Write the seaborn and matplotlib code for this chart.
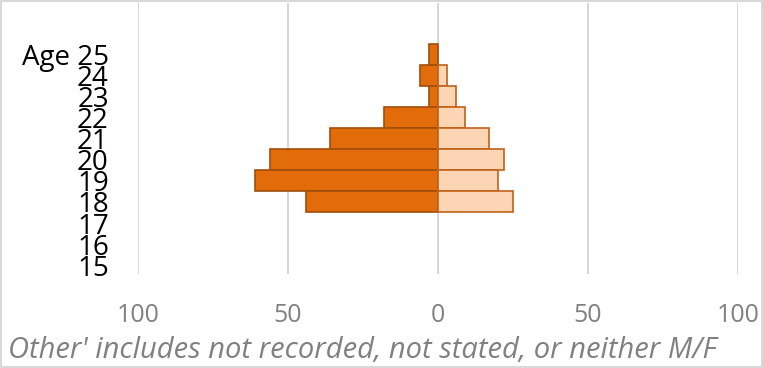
import matplotlib
matplotlib.use("Agg")
import matplotlib.pyplot as plt
import seaborn as sns
import pandas as pd

ages = [25, 24, 23, 22, 21, 20, 19, 18, 17, 16, 15]
left_values = [3, 6, 3, 18, 36, 56, 61, 44, 0, 0, 0]
right_values = [0, 3, 6, 9, 17, 22, 20, 25, 0, 0, 0]
age_labels = ["Age 25", "24", "23", "22", "21", "20", "19", "18", "17", "16", "15"]
x_ticks = [-100, -50, 0, 50, 100]
x_tick_labels = ["100", "50", "0", "50", "100"]
footnote = "Other' includes not recorded, not stated, or neither M/F"

sns.set_theme(style="white")
plt.rcParams['font.family'] = ['Open Sans', 'DejaVu Sans']

df_left = pd.DataFrame({"age": [str(a) for a in ages], "value": [-v for v in left_values]})
df_right = pd.DataFrame({"age": [str(a) for a in ages], "value": right_values})
order = [str(a) for a in ages]

fig = plt.figure(figsize=(7.63, 3.68), dpi=100)
fig.patch.set_edgecolor("#d9d9d9")
fig.patch.set_linewidth(1.5)
ax = fig.add_axes([138 / 763, 1 - 274 / 368, 600 / 763, 271 / 368])

sns.barplot(data=df_left, x="value", y="age", order=order, orient="h",
            color="#E36C0A", edgecolor="#A04E0B", linewidth=1.2,
            width=1.0, saturation=1, ax=ax)
sns.barplot(data=df_right, x="value", y="age", order=order, orient="h",
            color="#FCD5B4", edgecolor="#C0621A", linewidth=1.2,
            width=1.0, saturation=1, ax=ax)

# hide outline of zero-length bars
for p in ax.patches:
    if abs(p.get_width()) < 1e-9:
        p.set_visible(False)

ax.set_xlim(-100, 100)
ax.set_ylim(10.42, -2.44)
ax.set_xticks(x_ticks)
ax.set_xticklabels(x_tick_labels, color="#808080", fontsize=18)
ax.set_yticks(range(len(ages)))
ax.set_yticklabels(age_labels, color="black", fontsize=20)
ax.tick_params(axis="x", length=0, pad=21)
ax.tick_params(axis="y", length=0, pad=21)
ax.set_xlabel("")
ax.set_ylabel("")
ax.grid(axis="x", color="#d0d0d0", linewidth=1.2)
ax.set_axisbelow(True)
for s in ax.spines.values():
    s.set_visible(False)

fig.text(8 / 763, 1 - 350 / 368, footnote, fontsize=21, style="italic",
         color="#808080", ha="left", va="center")

fig.savefig("out.png", dpi=100)
